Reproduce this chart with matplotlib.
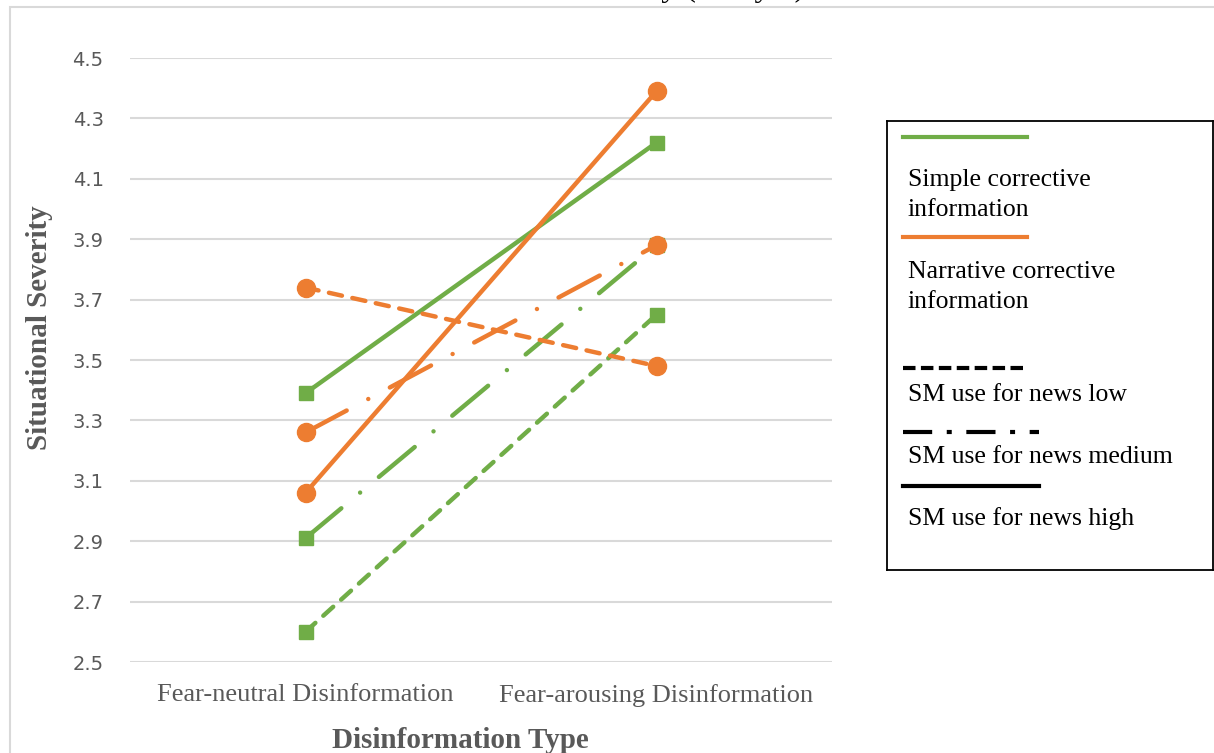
import matplotlib.pyplot as plt
from matplotlib.lines import Line2D
from matplotlib.patches import Rectangle

# ---------------- data ----------------
categories = ["Fear-neutral Disinformation", "Fear-arousing Disinformation"]

simple_low = [2.60, 3.65]
simple_medium = [2.91, 3.88]
simple_high = [3.39, 4.22]

narrative_low = [3.74, 3.48]
narrative_medium = [3.26, 3.88]
narrative_high = [3.06, 4.39]

yticks = [2.5, 2.7, 2.9, 3.1, 3.3, 3.5, 3.7, 3.9, 4.1, 4.3, 4.5]

# ---------------- style ----------------
GREEN = "#70AD47"
ORANGE = "#ED7D31"
GRAY = "#595959"
GRID = "#D9D9D9"
SERIF = "Liberation Serif"

dashed = (0, (3.0, 2.4))
dashdot = (0, (10.5, 5.5, 0.01, 5.5))
LW = 3.2

fig = plt.figure(figsize=(12.14, 7.53), dpi=100)

# outer chart frame (partly outside the picture)
fig.patches.append(Rectangle((10 / 1214, -0.05), 1.2, 1 - 7 / 753 + 0.05,
                             transform=fig.transFigure, fill=False,
                             ec=GRID, lw=1.5))

ax = fig.add_axes([130 / 1214, 1 - 662 / 753, 702 / 1214, 604 / 753])
x = range(len(categories))

ax.plot(x, simple_low, color=GREEN, lw=LW, ls=dashed, dash_capstyle="round",
        marker="s", ms=10.5)
ax.plot(x, simple_medium, color=GREEN, lw=LW, ls=dashdot, dash_capstyle="round",
        marker="s", ms=10.5)
ax.plot(x, simple_high, color=GREEN, lw=LW, marker="s", ms=10.5)

ax.plot(x, narrative_low, color=ORANGE, lw=LW, ls=dashed, dash_capstyle="round",
        marker="o", ms=13)
ax.plot(x, narrative_medium, color=ORANGE, lw=LW, ls=dashdot, dash_capstyle="round",
        marker="o", ms=13)
ax.plot(x, narrative_high, color=ORANGE, lw=LW, marker="o", ms=13)

ax.set_xlim(-0.5, 1.5)
ax.set_ylim(2.5, 4.5)
ax.set_yticks(yticks)
ax.set_yticklabels([f"{v:.1f}" for v in yticks], fontsize=14, color=GRAY,
                   family="DejaVu Sans")
ax.set_xticks(list(x))
ax.set_xticklabels(categories, fontsize=19, color=GRAY, family=SERIF)
ax.tick_params(axis="y", length=0, pad=19)
ax.tick_params(axis="x", length=0, pad=16)
ax.grid(axis="y", color=GRID, lw=1.5)
ax.set_axisbelow(True)
for s in ax.spines.values():
    s.set_visible(False)

fig.text(40 / 1214, 1 - 328 / 753, "Situational Severity", rotation=90,
         ha="center", va="center", fontsize=21, fontweight="bold",
         color=GRAY, family=SERIF)
fig.text(460 / 1214, 1 - 740 / 753, "Disinformation Type", ha="center",
         va="center", fontsize=21, fontweight="bold", color=GRAY, family=SERIF)

# title is cut off by the top edge, only the descenders show
fig.text(805 / 1214, 1 + 4 / 753, "Situational Severity (Study 3)", ha="right",
         va="baseline", fontsize=23, color="black", family=SERIF)

# ---------------- legend box ----------------
lax = fig.add_axes([887 / 1214, 1 - 570 / 753, 326 / 1214, 449 / 753])
lax.set_xlim(0, 1)
lax.set_ylim(0, 1)
lax.set_xticks([])
lax.set_yticks([])
for s in lax.spines.values():
    s.set_color("black")
    s.set_linewidth(1.3)

def ly(px):
    return (570 - px) / 449

lax.add_line(Line2D([0.049, 0.429], [ly(137)] * 2, color=GREEN, lw=3))
lax.add_line(Line2D([0.049, 0.429], [ly(237)] * 2, color=ORANGE, lw=3))
lax.add_line(Line2D([0.049, 0.429], [ly(368)] * 2, color="black", lw=3,
                    ls=(0, (3, 1.3))))
lax.add_line(Line2D([0.049, 0.466], [ly(432)] * 2, color="black", lw=3,
                    ls=(0, (7, 3.5, 1.2, 3.5))))
lax.add_line(Line2D([0.049, 0.466], [ly(486)] * 2, color="black", lw=3))

tkw = dict(ha="left", fontsize=18.5, color="black", family=SERIF,
           linespacing=1.5)
lax.text(0.064, ly(169), "Simple corrective\ninformation", va="top", **tkw)
lax.text(0.064, ly(261), "Narrative corrective\ninformation", va="top", **tkw)
lax.text(0.064, ly(395), "SM use for news low", va="center", **tkw)
lax.text(0.064, ly(457), "SM use for news medium", va="center", **tkw)
lax.text(0.064, ly(519), "SM use for news high", va="center", **tkw)

fig.savefig("out.png", dpi=100)
